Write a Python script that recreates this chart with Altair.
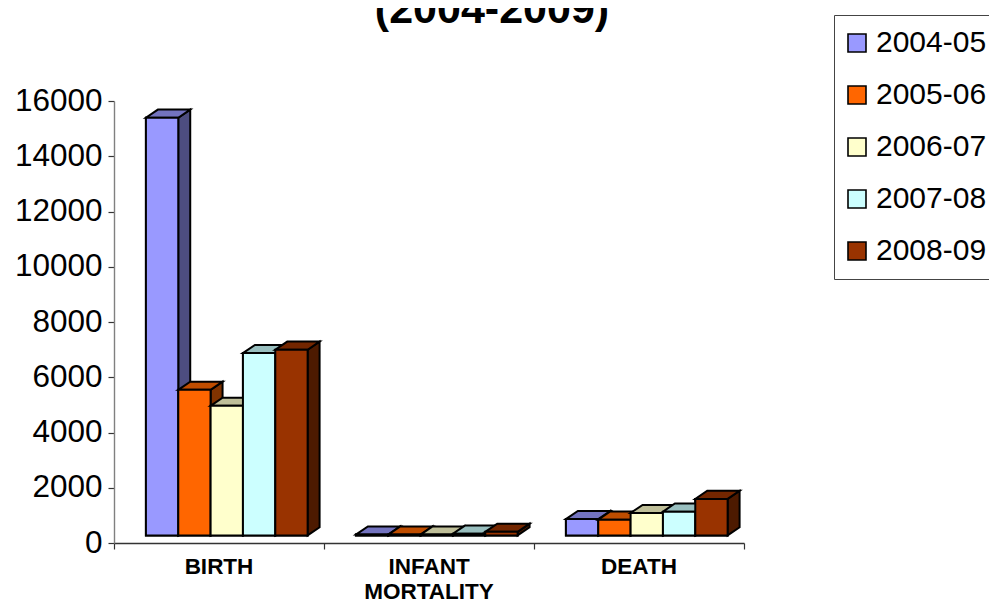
import altair as alt
import pandas as pd

categories = ["BIRTH", "INFANT\nMORTALITY", "DEATH"]
series = ["2004-05", "2005-06", "2006-07", "2007-08", "2008-09"]
colors = ["#9999FF", "#FF6600", "#FFFFCC", "#CCFFFF", "#993300"]
top_colors = ["#7373BF", "#BF4D00", "#BFBF99", "#99BFBF", "#732600"]
side_colors = ["#4D4D80", "#803300", "#808066", "#668080", "#4D1A00"]
birth = [15120, 5270, 4690, 6600, 6720]
infant = [30, 30, 30, 60, 130]
death = [590, 570, 810, 860, 1320]
values = [birth, infant, death]
y_ticks = [0, 2000, 4000, 6000, 8000, 10000, 12000, 14000, 16000]
title_text = "(2004-2009)"

# pseudo-3D geometry, in axis units
GAP = 0.152
BAR_W = 0.154
DEPTH_X = 0.057
LIFT = 275
DEPTH_Y = 295

faces = []
fronts = []
fid = 0
for c, vals in enumerate(values):
    for s, v in enumerate(vals):
        x0 = c + GAP + s * BAR_W
        x1 = x0 + BAR_W
        base = LIFT
        top = LIFT + v
        polys = [
            (side_colors[s], [(x1, base, top), (x1 + DEPTH_X, base + DEPTH_Y, top + DEPTH_Y)]),
            (top_colors[s], [(x0, top, top), (x0 + DEPTH_X, top, top + DEPTH_Y),
                             (x1, top, top + DEPTH_Y), (x1 + DEPTH_X, top + DEPTH_Y, top + DEPTH_Y)]),
            (colors[s], [(x0, base, top), (x1, base, top)]),
        ]
        for fill, pts in polys:
            for i, (x, lo, hi) in enumerate(pts):
                faces.append(dict(face=f"f{fid:03d}", x=x, lo=lo, hi=hi, fill=fill))
            fid += 1
        fronts.append(dict(series=series[s], x=x0, x2=x1, lo=base, hi=top))

faces_df = pd.DataFrame(faces)
fronts_df = pd.DataFrame(fronts)
cat_df = pd.DataFrame({"label": categories, "pos": [0.5, 1.5, 2.5]})
title_df = pd.DataFrame({"t": [title_text]})

x_scale = alt.Scale(domain=[0, 3], nice=False, zero=False)
y_scale = alt.Scale(domain=[0, 16000], nice=False)
FONT = "Liberation Sans"

under = alt.Chart(fronts_df).mark_bar(stroke="black", strokeWidth=2).encode(
    x=alt.X("x:Q", scale=x_scale,
            axis=alt.Axis(values=[0, 1, 2, 3], labels=False, title=None, grid=False,
                          tickSize=6, tickColor="#333333", domainColor="#333333",
                          tickWidth=1.2, domainWidth=1.4)),
    x2="x2:Q",
    y=alt.Y("lo:Q", scale=y_scale,
            axis=alt.Axis(values=y_ticks, title=None, grid=False, tickSize=6, format="d",
                          tickColor="#333333", domainColor="#808080", domainWidth=1.4,
                          tickWidth=1.2, labelFont=FONT, labelFontSize=31.5,
                          labelColor="black", labelPadding=6)),
    y2="hi:Q",
    color=alt.Color("series:N", sort=series,
                    scale=alt.Scale(domain=series, range=colors),
                    legend=alt.Legend(title=None, orient="none", legendX=720, legendY=-86,
                                      symbolType="square", symbolSize=324,
                                      symbolStrokeColor="black", symbolStrokeWidth=1.6,
                                      symbolOpacity=1, symbolOffset=-5,
                                      labelFont=FONT, labelFontSize=30,
                                      labelColor="black", labelOffset=4, rowPadding=22,
                                      padding=13, strokeColor="#444444", fillColor="white",
                                      labelLimit=300)),
)

polys = alt.Chart(faces_df).mark_area(stroke="black", strokeWidth=2, orient="vertical").encode(
    x="x:Q",
    y=alt.Y("lo:Q"),
    y2="hi:Q",
    fill=alt.Fill("fill:N", scale=None),
    detail="face:N",
)

cat_labels = alt.Chart(cat_df).mark_text(
    font=FONT, fontSize=22.5, fontWeight="bold", color="black",
    lineBreak="\n", lineHeight=25, baseline="top", align="center",
).encode(x="pos:Q", y=alt.value(455), text="label:N")

title = alt.Chart(title_df).mark_text(
    font=FONT, fontSize=43, fontWeight="bold", color="black", align="center",
    baseline="alphabetic",
).encode(x=alt.value(378), y=alt.value(-78), text="t:N")

chart = alt.layer(under, polys, cat_labels, title).properties(
    width=630, height=442,
    autosize=alt.AutoSizeParams(type="none"),
    padding={"left": 106, "top": 93, "right": 245, "bottom": 59},
).configure_view(stroke=None)

chart.save("out.html", embed_options={"renderer": "svg", "actions": False})
